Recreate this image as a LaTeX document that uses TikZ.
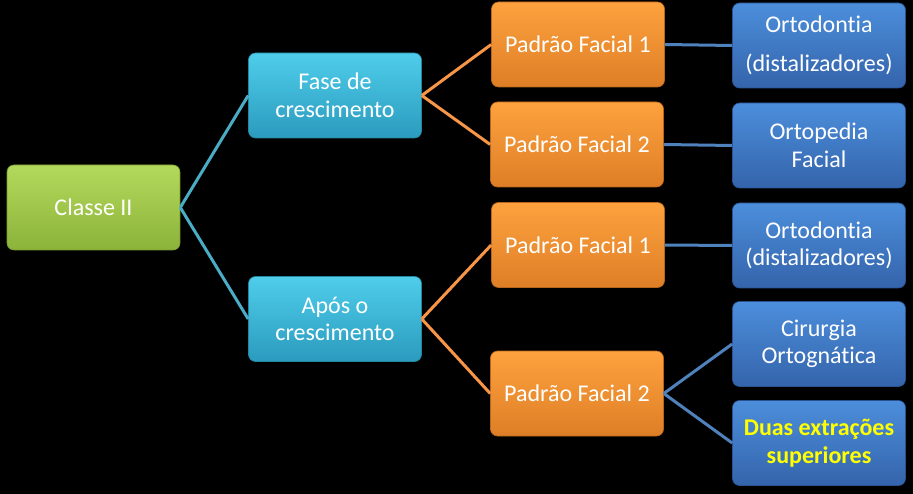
\documentclass[tikz,border=0pt]{standalone}
\usepackage{fontspec}
\setmainfont[Ligatures=NoCommon]{Carlito}
\definecolor{gtop}{HTML}{B3D95C}
\definecolor{gbot}{HTML}{8CB33A}
\definecolor{gedge}{HTML}{7A9E30}
\definecolor{ctop}{HTML}{4FCDEB}
\definecolor{cbot}{HTML}{2B9BBE}
\definecolor{cedge}{HTML}{25869F}
\definecolor{otop}{HTML}{FDA23E}
\definecolor{obot}{HTML}{DE7E26}
\definecolor{oedge}{HTML}{B8661C}
\definecolor{btop}{HTML}{4C8EDB}
\definecolor{bbot}{HTML}{3464AB}
\definecolor{bedge}{HTML}{2A5290}
\definecolor{lcyan}{HTML}{4BACC6}
\definecolor{lorange}{HTML}{F79646}
\definecolor{lblue}{HTML}{4F81BD}
\definecolor{ytext}{HTML}{FFFF00}
\begin{document}
\begin{tikzpicture}[x=1pt,y=-1pt,
  box/.style={rounded corners=7pt, minimum width=173pt, minimum height=85pt,
    align=center, text=white, inner sep=0pt, line width=0.6pt,
    font=\fontsize{24}{27.5}\selectfont},
  greenbox/.style={box, draw=gedge, top color=gtop, bottom color=gbot},
  cyanbox/.style={box, draw=cedge, top color=ctop, bottom color=cbot},
  orangebox/.style={box, draw=oedge, top color=otop, bottom color=obot},
  bluebox/.style={box, draw=bedge, top color=btop, bottom color=bbot},
  cline/.style={draw=lcyan, line width=3pt},
  oline/.style={draw=lorange, line width=3pt},
  bline/.style={draw=lblue, line width=3pt}]
\fill[black] (0,0) rectangle (913,494);
\useasboundingbox (0,0) rectangle (913,494);

\node[greenbox] (classe) at (93.5,207.5) {Classe II};
\node[cyanbox] (fase) at (335,95.5) {Fase de\\crescimento};
\node[cyanbox] (apos) at (335,319) {Após o\\crescimento};
\node[orangebox] (pa1) at (578,44.5) {Padrão Facial 1};
\node[orangebox] (pa2) at (577,144.5) {Padrão Facial 2};
\node[orangebox] (pb1) at (578,245) {Padrão Facial 1};
\node[orangebox] (pb2) at (577,393.5) {Padrão Facial 2};
\node[bluebox] (orto1) at (819,45.5) {Ortodontia\\[12pt](distalizadores)};
\node[bluebox] (ortop) at (819,145.5) {Ortopedia\\Facial};
\node[bluebox] (orto2) at (819,245.5) {Ortodontia\\(distalizadores)};
\node[bluebox] (cir) at (819,344) {Cirurgia\\Ortognática};
\node[bluebox, text=ytext, font=\fontsize{24}{28}\selectfont\bfseries] (duas) at (819,443) {Duas extrações\\superiores};

\draw[cline] (classe.east) -- (fase.west);
\draw[cline] (classe.east) -- (apos.west);
\draw[oline] (fase.east) -- (pa1.west);
\draw[oline] (fase.east) -- (pa2.west);
\draw[oline] (apos.east) -- (pb1.west);
\draw[oline] (apos.east) -- (pb2.west);
\draw[bline] (pa1.east) -- (orto1.west);
\draw[bline] (pa2.east) -- (ortop.west);
\draw[bline] (pb1.east) -- (orto2.west);
\draw[bline] (pb2.east) -- (cir.west);
\draw[bline] (pb2.east) -- (duas.west);
\end{tikzpicture}
\end{document}
